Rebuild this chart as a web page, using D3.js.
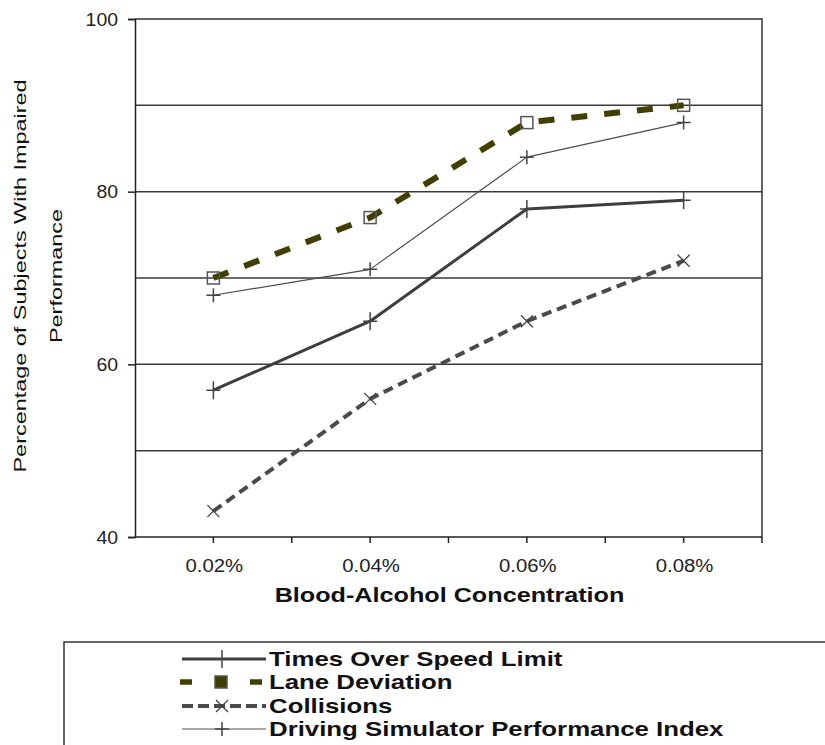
<!DOCTYPE html>
<html>
<head>
<meta charset="utf-8">
<script src="https://cdn.jsdelivr.net/npm/d3@7"></script>
<style>
  html, body { margin: 0; padding: 0; background: #fff; }
  svg { display: block; font-family: "Liberation Sans", Arial, sans-serif; }
</style>
</head>
<body>
<svg id="chart" width="825" height="745"></svg>
<script>
// Blood-alcohol concentration levels (x categories)
const categories = ["0.02%", "0.04%", "0.06%", "0.08%"];

// Percentage of subjects with impaired performance, per measure
const timesOverSpeed = [57, 65, 78, 79];
const laneDeviation  = [70, 77, 88, 90];
const collisions     = [43, 56, 65, 72];
const simulatorIndex = [68, 71, 84, 88];

const seriesNames = [
  "Times Over Speed Limit",
  "Lane Deviation",
  "Collisions",
  "Driving Simulator Performance Index"
];

const yTickValues = [40, 60, 80, 100];
const yGridValues = [50, 60, 70, 80, 90];

const svg = d3.select("#chart");
const plot = { left: 135, right: 762, top: 19, bottom: 537 };

const x = d3.scalePoint().domain(categories).range([plot.left, plot.right]).padding(0.5);
const y = d3.scaleLinear().domain([40, 100]).range([plot.bottom, plot.top]);

// text drawn with a wide (horizontally stretched) face
function wideText(parent, tx, ty, str, opts) {
  const g = parent.append("g")
    .attr("transform", `translate(${tx},${ty}) ${opts.rotate ? `rotate(${opts.rotate})` : ""} scale(${opts.sx},1)`);
  return g.append("text")
    .attr("text-anchor", opts.anchor || "start")
    .attr("font-size", opts.size)
    .attr("font-weight", opts.weight || "normal")
    .attr("fill", opts.fill || "#111")
    .text(str);
}

// horizontal gridlines
svg.append("g").selectAll("line").data(yGridValues).join("line")
  .attr("x1", plot.left).attr("x2", plot.right)
  .attr("y1", d => y(d)).attr("y2", d => y(d))
  .attr("stroke", "#3a3a3a").attr("stroke-width", 1.5);

// frame: top and right
svg.append("path")
  .attr("d", `M${plot.left},${y(100)}H${plot.right}V${plot.bottom}`)
  .attr("fill", "none").attr("stroke", "#333").attr("stroke-width", 1.5);

// y axis (labels drawn separately with the wide face)
const yAxis = svg.append("g")
  .attr("transform", `translate(${plot.left},0)`)
  .call(d3.axisLeft(y).tickValues(yTickValues).tickSize(7).tickFormat(""));
yAxis.select(".domain").attr("stroke", "#222").attr("stroke-width", 1.5);
yAxis.selectAll(".tick line").attr("stroke", "#222").attr("stroke-width", 1.5);
yTickValues.forEach(v =>
  wideText(svg, 118, y(v) + 6.5, String(v), { size: 18, sx: 1.08, anchor: "end", fill: "#222" }));

// x axis: ticks at category centres and between categories
const step = x.step();
const xTickPositions = d3.range(1, 9).map(i => plot.left + i * step / 2);
const xAxisG = svg.append("g");
xAxisG.append("line")
  .attr("x1", plot.left).attr("x2", plot.right)
  .attr("y1", plot.bottom).attr("y2", plot.bottom)
  .attr("stroke", "#222").attr("stroke-width", 1.5);
xAxisG.selectAll("line.tk").data(xTickPositions).join("line")
  .attr("class", "tk")
  .attr("x1", d => d).attr("x2", d => d)
  .attr("y1", plot.bottom).attr("y2", plot.bottom + 6)
  .attr("stroke", "#222").attr("stroke-width", 1.5);
categories.forEach(c =>
  wideText(xAxisG, x(c) + 1, 572, c, { size: 18, sx: 1.13, anchor: "middle", fill: "#222" }));

// axis titles
wideText(svg, (plot.left + plot.right) / 2 + 1, 602, "Blood-Alcohol Concentration",
  { size: 20, sx: 1.26, anchor: "middle", weight: "bold" });

wideText(svg, 26, 276, "Percentage of Subjects With Impaired",
  { size: 16.5, sx: 1.42, anchor: "middle", rotate: -90 });
wideText(svg, 62, 276, "Performance",
  { size: 16.5, sx: 1.42, anchor: "middle", rotate: -90 });

// series styles
const styles = [
  { data: timesOverSpeed, color: "#3d3d3d", width: 3, dash: null, marker: "plus" },
  { data: laneDeviation,  color: "#403f00", width: 6, dash: "16,17", marker: "square" },
  { data: collisions,     color: "#4a4a4a", width: 4, dash: "10,6", marker: "cross" },
  { data: simulatorIndex, color: "#4d4d4d", width: 1.2, dash: null, marker: "plusThin" }
];

const line = d3.line().x((d, i) => x(categories[i])).y(d => y(d));

function drawMarker(g, type, cx, cy) {
  if (type === "plus" || type === "plusThin") {
    const h = type === "plus" ? 9 : 7;
    const w = 7;
    g.append("path")
      .attr("d", `M${cx - w},${cy}H${cx + w}M${cx},${cy - h}V${cy + h}`)
      .attr("stroke", "#444").attr("stroke-width", 1.5).attr("fill", "none");
  } else if (type === "square") {
    g.append("rect")
      .attr("x", cx - 6).attr("y", cy - 6).attr("width", 12).attr("height", 12)
      .attr("fill", "none").attr("stroke", "#555").attr("stroke-width", 1.5);
  } else if (type === "cross") {
    const r = 6;
    g.append("path")
      .attr("d", `M${cx - r},${cy - r}L${cx + r},${cy + r}M${cx - r},${cy + r}L${cx + r},${cy - r}`)
      .attr("stroke", "#444").attr("stroke-width", 1.3).attr("fill", "none");
  }
}

// draw lines in back-to-front order
const drawOrder = [2, 0, 3, 1];
drawOrder.forEach(k => {
  const s = styles[k];
  const g = svg.append("g");
  g.append("path")
    .datum(s.data)
    .attr("d", line)
    .attr("fill", "none")
    .attr("stroke", s.color)
    .attr("stroke-width", s.width)
    .attr("stroke-dasharray", s.dash)
    .attr("stroke-linejoin", "round");
  s.data.forEach((v, i) => drawMarker(g, s.marker, x(categories[i]), y(v)));
});

// legend
const legend = svg.append("g");
legend.append("rect")
  .attr("x", 64).attr("y", 642).attr("width", 800).attr("height", 200)
  .attr("fill", "#fff").attr("stroke", "#333").attr("stroke-width", 1.5);

const legendRowY = [659, 682, 706, 729];
styles.forEach((s, k) => {
  const ly = legendRowY[k];
  const g = legend.append("g");
  if (s.marker === "square") {
    [[180, 192], [250, 262]].forEach(([a, b]) =>
      g.append("line").attr("x1", a).attr("x2", b).attr("y1", ly).attr("y2", ly)
        .attr("stroke", s.color).attr("stroke-width", 5.5));
    g.append("rect").attr("x", 215).attr("y", ly - 6).attr("width", 12).attr("height", 12)
      .attr("fill", s.color).attr("stroke", "#555").attr("stroke-width", 1.5);
  } else {
    g.append("line").attr("x1", 182).attr("x2", 266).attr("y1", ly).attr("y2", ly)
      .attr("stroke", s.color).attr("stroke-width", s.width)
      .attr("stroke-dasharray", s.dash ? "11,5" : null);
    drawMarker(g, s.marker, 222, ly);
  }
  wideText(g, 269, ly + 6.5, seriesNames[k], { size: 20, sx: 1.29, weight: "bold" });
});
</script>
</body>
</html>
